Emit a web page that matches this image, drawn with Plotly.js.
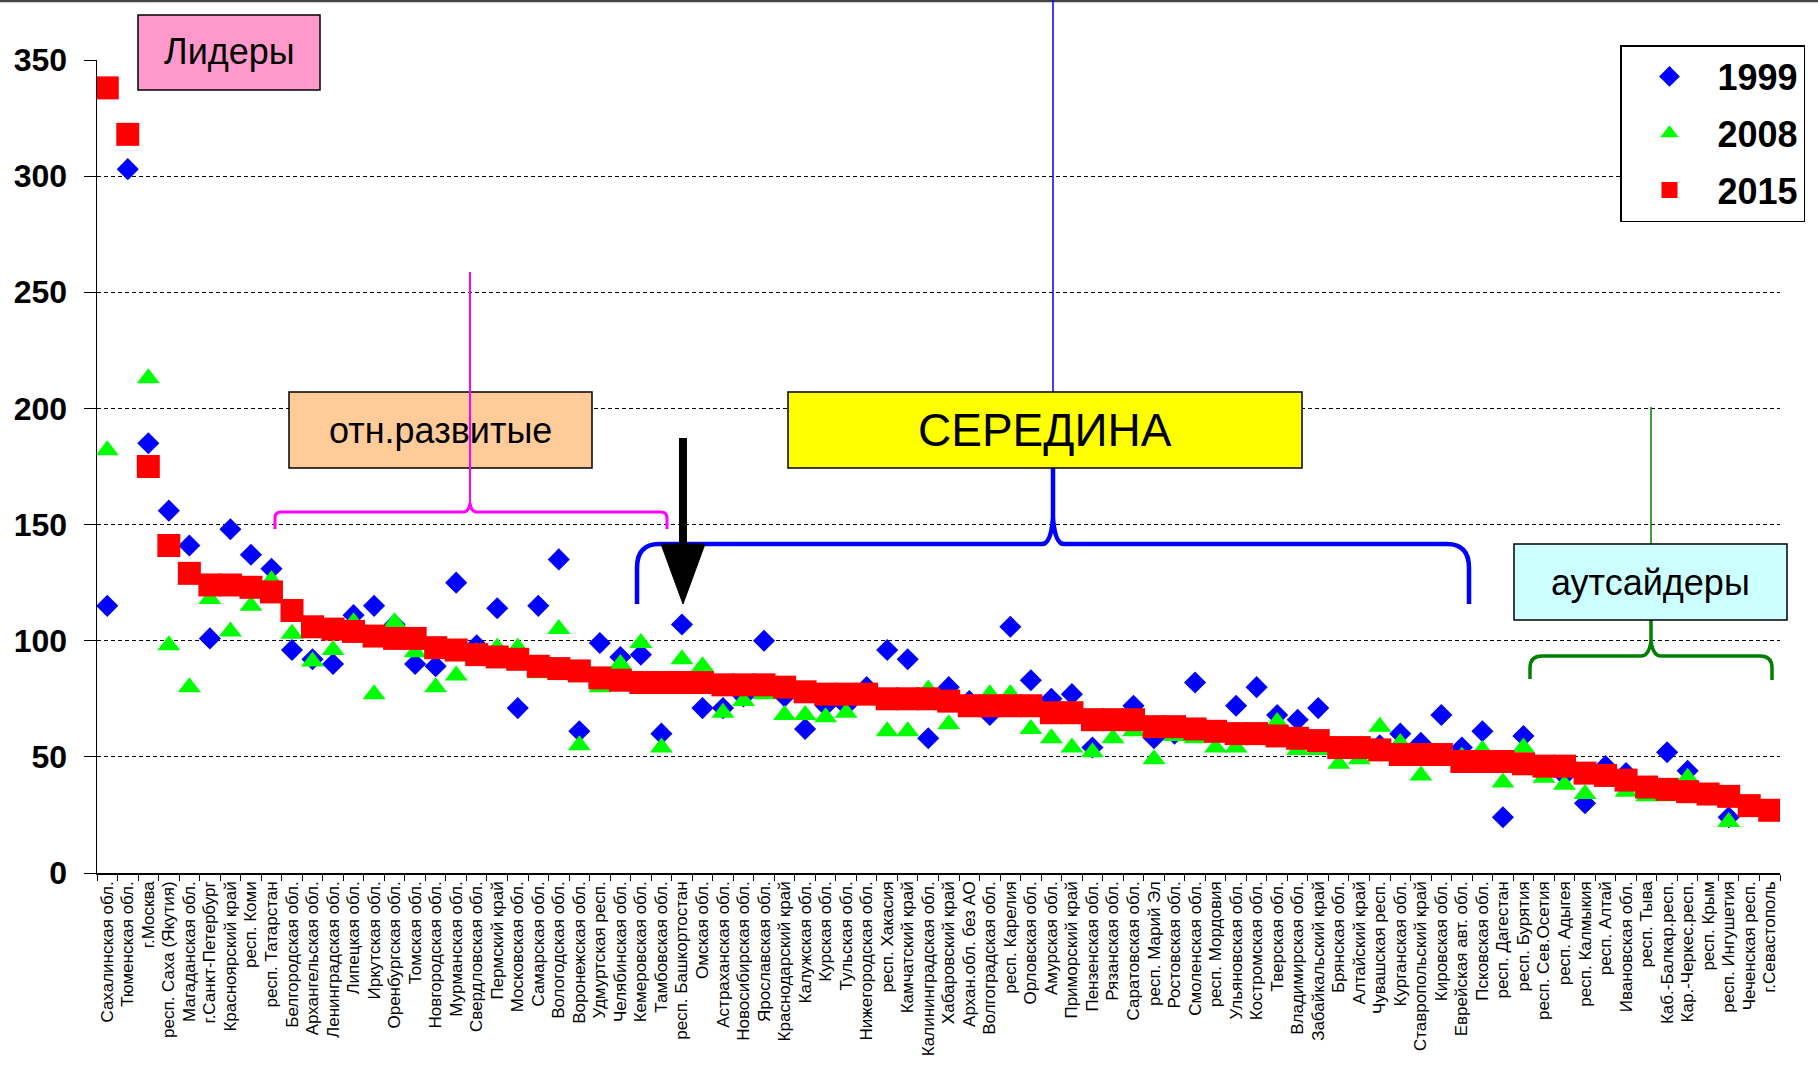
<!DOCTYPE html>
<html><head><meta charset="utf-8">
<script src="https://cdn.plot.ly/plotly-3.0.1.min.js"></script>
<style>html,body{margin:0;padding:0;background:#fff;overflow:hidden;width:1818px;height:1070px}#chart{width:1818px;height:1070px;overflow:hidden}</style>
</head><body><div id="chart"></div>
<script>
const regions = [
 "Сахалинская обл.","Тюменская обл.","г.Москва","респ. Саха (Якутия)","Магаданская обл.",
 "г.Санкт-Петербург","Красноярский край","респ. Коми","респ. Татарстан","Белгородская обл.",
 "Архангельская обл.","Ленинградская обл.","Липецкая обл.","Иркутская обл.","Оренбургская обл.",
 "Томская обл.","Новгородская обл.","Мурманская обл.","Свердловская обл.","Пермский край",
 "Московская обл.","Самарская обл.","Вологодская обл.","Воронежская обл.","Удмуртская респ.",
 "Челябинская обл.","Кемеровская обл.","Тамбовская обл.","респ. Башкортостан","Омская обл.",
 "Астраханская обл.","Новосибирская обл.","Ярославская обл.","Краснодарский край","Калужская обл.",
 "Курская обл.","Тульская обл.","Нижегородская обл.","респ. Хакасия","Камчатский край",
 "Калининградская обл.","Хабаровский край","Архан.обл. без АО","Волгоградская обл.","респ. Карелия",
 "Орловская обл.","Амурская обл.","Приморский край","Пензенская обл.","Рязанская обл.",
 "Саратовская обл.","респ. Марий Эл","Ростовская обл.","Смоленская обл.","респ. Мордовия",
 "Ульяновская обл.","Костромская обл.","Тверская обл.","Владимирская обл.","Забайкальский край",
 "Брянская обл.","Алтайский край","Чувашская респ.","Курганская обл.","Ставропольский край",
 "Кировская обл.","Еврейская авт. обл.","Псковская обл.","респ. Дагестан","респ. Бурятия",
 "респ. Сев.Осетия","респ. Адыгея","респ. Калмыкия","респ. Алтай","Ивановская обл.",
 "респ. Тыва","Каб.-Балкар.респ.","Кар.-Черкес.респ.","респ. Крым","респ. Ингушетия",
 "Чеченская респ.","г.Севастополь"
];
const values1999 = [
 115,303,185,156,141,101,148,137,131,96,
 92,90,111,115,107,90,89,125,98,114,
 71,115,135,61,99,93,94,60,107,71,
 71,76,100,76,62,72,72,80,96,92,
 58,80,74,68,106,83,75,77,54,66,
 72,58,60,82,60,72,80,68,66,71,
 54,53,55,60,56,68,54,61,24,59,
 45,42,30,46,43,36,52,44,null,24,
 null,null
];
const values2008 = [
 182,317,213,98,80,118,104,115,126,103,
 91,96,108,77,108,95,80,85,95,97,
 97,86,105,55,80,90,99,54,92,89,
 69,74,77,68,68,67,69,77,61,61,
 79,64,72,77,77,62,58,54,52,58,
 61,49,59,58,54,54,59,65,53,53,
 47,49,63,56,42,50,50,53,39,54,
 41,38,34,41,35,33,33,41,null,22,
 27,null
];
const values2015 = [
 338,318,175,141,129,124,124,123,121,113,
 106,105,104,102,101,101,97,96,94,93,
 92,89,88,87,84,83,82,82,82,82,
 81,81,81,80,78,77,77,77,75,75,
 75,74,72,72,72,72,69,69,66,66,
 66,63,63,62,61,60,60,59,58,57,
 54,54,53,51,51,51,48,48,48,47,
 46,46,43,42,40,37,36,35,34,33,
 29,27
];
const seriesNames = ["1999","2008","2015"];
const yTickValues = [0,50,100,150,200,250,300,350];
const groupLabels = ["Лидеры","отн.развитые","СЕРЕДИНА","аутсайдеры"];

// plot frame in page pixels
const Lp=97, Rp=1780, Tp=60, Bp=873;
const px = x => (x-Lp)/(Rp-Lp);
const py = y => (Bp-y)/(Bp-Tp);
function pth(segs){
  return segs.map(s => s[0] + (s.length>1 ? s.slice(1).map(p => px(p[0]).toFixed(5)+','+py(p[1]).toFixed(5)).join(' ') : '')).join(' ');
}
function ln(x0,y0,x1,y1,color,w){
  return {type:'line',xref:'paper',yref:'paper',x0:px(x0),y0:py(y0),x1:px(x1),y1:py(y1),line:{color:color,width:w}};
}
function box(x0,y0,x1,y1,fill){
  return {type:'rect',xref:'paper',yref:'paper',x0:px(x0),y0:py(y0),x1:px(x1),y1:py(y1),fillcolor:fill,line:{color:'#000',width:1.5}};
}

const shapes = [
  ln(0,1,1818,1,'#444',2.5),
  // blue brace (СЕРЕДИНА)
  ln(1053,392,1053,0,'#0000ff',1.5),
  {type:'path',xref:'paper',yref:'paper',line:{color:'#0000ff',width:4.5},
   path:pth([['M',[637,604]],['L',[637,568]],['Q',[637,544],[659,544]],['L',[1042,544]],['Q',[1051,544],[1053,518]],['Q',[1055,544],[1064,544]],['L',[1447,544]],['Q',[1469,544],[1469,568]],['L',[1469,604]]])},
  ln(1053,518,1053,466,'#0000ff',4.5),
  // green brace (аутсайдеры)
  ln(1651,545,1651,407,'#008000',1.5),
  {type:'path',xref:'paper',yref:'paper',line:{color:'#008000',width:3.5},
   path:pth([['M',[1530,679]],['L',[1530,668]],['Q',[1530,656],[1542,656]],['L',[1641,656]],['Q',[1649,656],[1651,641]],['Q',[1653,656],[1661,656]],['L',[1760,656]],['Q',[1772,656],[1772,668]],['L',[1772,680]]])},
  ln(1651,641,1651,620,'#008000',3.5),
  // boxes
  box(138,15,320,90,'#ff99cc'),
  box(289,392,592,468,'#ffcc99'),
  box(788,392,1302,468,'#ffff00'),
  box(1514,544,1787,620,'#ccffff'),
  // magenta brace (отн.развитые)
  {type:'path',xref:'paper',yref:'paper',line:{color:'#ff00ff',width:3},
   path:pth([['M',[275,529]],['L',[275,518]],['Q',[275,512],[281,512]],['L',[463,512]],['Q',[469,512],[470,503]],['Q',[471,512],[477,512]],['L',[661,512]],['Q',[667,512],[667,518]],['L',[667,529]]])},
  ln(470,503,470,272,'#ff00ff',2),
  // black arrow
  ln(683,438,683,548,'#000',8),
  {type:'path',xref:'paper',yref:'paper',fillcolor:'#000',line:{color:'#000',width:1},
   path:pth([['M',[661,544]],['L',[705,544]],['L',[683,604]],['Z']])}
];

const font = 'Liberation Sans, Arial, sans-serif';
function lab(text,cx,cy,size){
  return {xref:'paper',yref:'paper',x:px(cx),y:py(cy),xanchor:'center',yanchor:'middle',
    text:text,showarrow:false,font:{family:font,size:size,color:'#000'}};
}
const annotations = [
  lab(groupLabels[0],229,52,36),
  lab(groupLabels[1],440,430,36),
  lab(groupLabels[2],1045,430,46),
  lab(groupLabels[3],1650,582,36)
];

const traces = [
  {x:regions,y:values1999,name:seriesNames[0],type:'scatter',mode:'markers',legendgroup:'a',
   marker:{symbol:'diamond',size:17,color:'#0000ff'}},
  {x:regions,y:values2008,name:seriesNames[1],type:'scatter',mode:'markers',legendgroup:'b',
   marker:{symbol:'triangle-up',size:20,color:'#00ff00'}},
  {x:regions,y:values2015,name:seriesNames[2],type:'scatter',mode:'markers',legendgroup:'c',
   marker:{symbol:'square',size:23,color:'#ff0000'}}
];

const layout = {
  width:1818,height:1070,
  margin:{l:Lp,r:1818-Rp,t:Tp,b:1070-Bp,pad:0},
  paper_bgcolor:'#fff',plot_bgcolor:'#fff',
  showlegend:true,
  legend:{x:px(1620),y:py(45),xanchor:'left',yanchor:'top',bgcolor:'#fff',bordercolor:'#000',borderwidth:1.5,
    font:{family:font,size:36,color:'#000',weight:'bold'},itemwidth:86,tracegroupgap:7,traceorder:'grouped'},
  xaxis:{type:'category',range:[-0.5,81.5],tickangle:-90,tickfont:{family:font,size:17,color:'#000'},
    ticks:'outside',ticklen:6,tickcolor:'#000',tickson:'boundaries',showline:true,linecolor:'#000',linewidth:1.5,
    showgrid:false,zeroline:false,automargin:false},
  yaxis:{range:[0,350],tickvals:yTickValues,ticktext:yTickValues.map(String),
    tickfont:{family:font,size:32,color:'#000',weight:'bold'},ticks:'outside',ticklen:12,tickcolor:'#000',
    ticklabelstandoff:10,showline:true,linecolor:'#000',linewidth:1.5,showgrid:true,gridcolor:'#000',gridwidth:1,
    griddash:'4px,3px',zeroline:false,automargin:false},
  shapes:shapes,
  annotations:annotations
};
Plotly.newPlot('chart',traces,layout,{staticPlot:true,displayModeBar:false});
</script></body></html>
